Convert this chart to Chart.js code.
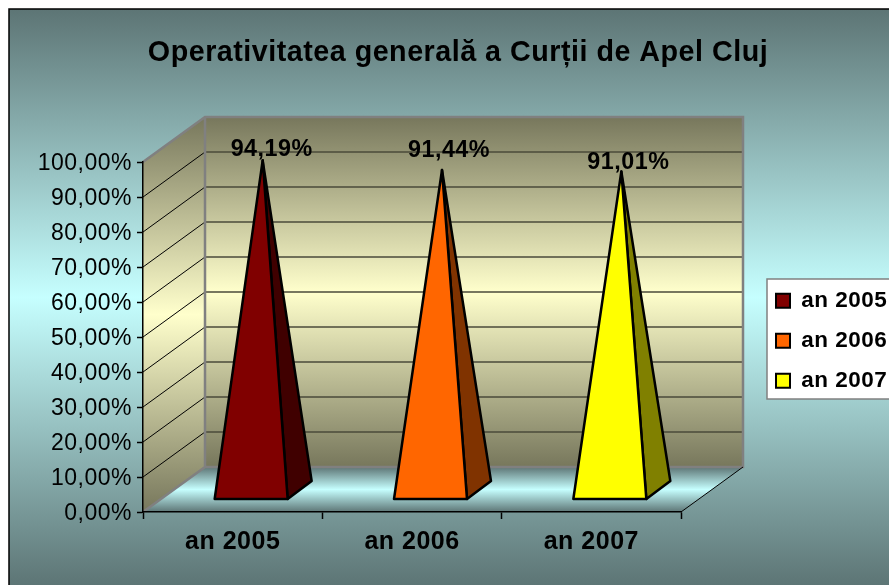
<!DOCTYPE html>
<html>
<head>
<meta charset="utf-8">
<script src="https://cdn.jsdelivr.net/npm/chart.js@4/dist/chart.umd.min.js"></script>
<style>
  html, body { margin: 0; padding: 0; background: #fff; overflow: hidden; }
  canvas { display: block; }
</style>
</head>
<body>
<canvas id="chart-operativitate" width="889" height="585"></canvas>
<script>
const titleText = "Operativitatea generală a Curții de Apel Cluj";
const categories = ["an 2005", "an 2006", "an 2007"];
const values = [94.19, 91.44, 91.01];
const frontColors = ["#800000", "#ff6600", "#ffff00"];
const sideColors = ["#400000", "#803300", "#808000"];

const FONT = '"Liberation Sans", Arial, sans-serif';
const TEXT_SPACING = "0.5px";
const depthX = 62;
const depthY = 45;
const labelNudge = [[9, -11], [7, -19], [7, -9]];

const formatPercent = (v) => v.toFixed(2).replace(".", ",") + "%";

function threeStops(ctx, y0, y1, edge, middle) {
    const g = ctx.createLinearGradient(0, y0, 0, y1);
    g.addColorStop(0, edge);
    g.addColorStop(0.5, middle);
    g.addColorStop(1, edge);
    return g;
}

function polygon(ctx, points, fill, stroke, lineWidth) {
    ctx.beginPath();
    points.forEach((p, i) => (i ? ctx.lineTo(p[0], p[1]) : ctx.moveTo(p[0], p[1])));
    ctx.closePath();
    if (fill) {
        ctx.fillStyle = fill;
        ctx.fill();
    }
    if (stroke) {
        ctx.strokeStyle = stroke;
        ctx.lineWidth = lineWidth;
        ctx.lineJoin = "round";
        ctx.stroke();
    }
}

const pyramidPlugin = {
    id: "pyramid3d",
    beforeUpdate(chart) {
        chart.ctx.letterSpacing = TEXT_SPACING;
    },
    afterLayout(chart) {
        // the original keeps the legend apart from the plot and the title off centre
        const legend = chart.legend;
        legend.left = 758.5;
        legend.right = legend.left + legend.width;
        legend.top = 272;
        legend.bottom = 500;
        chart.titleBlock.left = 27;
        chart.titleBlock.right = 889;
    },
    beforeDraw(chart) {
        const ctx = chart.ctx;
        const x = chart.scales.x;
        const y = chart.scales.y;
        const left = x.left, right = x.right;
        const top = y.getPixelForValue(100), bottom = y.getPixelForValue(0);
        ctx.letterSpacing = TEXT_SPACING;

        ctx.fillStyle = "#fff";
        ctx.fillRect(0, 0, chart.width, chart.height);
        ctx.fillStyle = threeStops(ctx, 10, 585, "#5d7575", "#c6ffff");
        ctx.fillRect(9, 9, chart.width, chart.height);
        ctx.strokeStyle = "#000";
        ctx.lineWidth = 1.5;
        ctx.strokeRect(9, 9, chart.width + 10, chart.height + 10);

        // back wall, side wall, floor
        const wallFill = threeStops(ctx, top - depthY, bottom - depthY, "#77775c", "#ffffcc");
        const sideFill = threeStops(ctx, top - depthY, bottom, "#77775c", "#ffffcc");
        const floorFill = threeStops(ctx, bottom - depthY, bottom, "#5d7575", "#c6ffff");
        polygon(ctx, [[left + depthX, top - depthY], [right + depthX, top - depthY],
            [right + depthX, bottom - depthY], [left + depthX, bottom - depthY]], wallFill);
        polygon(ctx, [[left, top], [left + depthX, top - depthY],
            [left + depthX, bottom - depthY], [left, bottom]], sideFill);
        polygon(ctx, [[left, bottom], [left + depthX, bottom - depthY],
            [right + depthX, bottom - depthY], [right, bottom]], floorFill);

        // gridlines on both walls
        y.ticks.forEach((tick) => {
            if (tick.value === 0) return;
            const py = y.getPixelForValue(tick.value);
            ctx.beginPath();
            ctx.moveTo(left, py);
            ctx.lineTo(left + depthX, py - depthY);
            ctx.strokeStyle = "#000";
            ctx.lineWidth = 1;
            ctx.stroke();
            ctx.beginPath();
            ctx.moveTo(left + depthX, py - depthY);
            ctx.lineTo(right + depthX, py - depthY);
            ctx.strokeStyle = "#4a4a3a";
            ctx.lineWidth = 1.5;
            ctx.stroke();
        });

        // wall outlines
        ctx.strokeStyle = "#808080";
        ctx.lineWidth = 2.5;
        ctx.beginPath();
        ctx.moveTo(left, bottom);
        ctx.lineTo(left + depthX, bottom - depthY);
        ctx.lineTo(right + depthX, bottom - depthY);
        ctx.lineTo(right + depthX, top - depthY);
        ctx.lineTo(left + depthX, top - depthY);
        ctx.lineTo(left, top);
        ctx.moveTo(left + depthX, top - depthY);
        ctx.lineTo(left + depthX, bottom - depthY);
        ctx.stroke();

        ctx.strokeStyle = "#000";
        ctx.lineWidth = 1;
        ctx.beginPath();
        ctx.moveTo(right, bottom);
        ctx.lineTo(right + depthX, bottom - depthY);
        ctx.stroke();

        // legend box, cut by the right edge as in the original
        ctx.fillStyle = "#fff";
        ctx.fillRect(767, 279, 140, 120);
        ctx.strokeStyle = "#808080";
        ctx.lineWidth = 1.5;
        ctx.strokeRect(767, 279, 140, 120);
    },
    beforeDatasetDraw(chart, args) {
        const ctx = chart.ctx;
        const y = chart.scales.y;
        const zero = y.getPixelForValue(0);
        args.meta.data.forEach((bar, i) => {
            const half = bar.width / 2;
            const cx = bar.x + 18.5;
            const frontL = [cx - half, zero - 13];
            const frontR = [cx + half, zero - 13];
            const backR = [cx + half + 24, zero - 31];
            const apex = [bar.x + 30, bar.y - 22];
            polygon(ctx, [frontR, backR, apex], sideColors[i], "#000", 2.5);
            polygon(ctx, [frontL, frontR, apex], frontColors[i], "#000", 2.5);
        });
        return false;
    },
    afterDatasetsDraw(chart) {
        const ctx = chart.ctx;
        const meta = chart.getDatasetMeta(0);
        ctx.save();
        ctx.font = "bold 23.3px " + FONT;
        ctx.fillStyle = "#000";
        ctx.textAlign = "center";
        ctx.textBaseline = "middle";
        meta.data.forEach((bar, i) => {
            ctx.fillText(formatPercent(values[i]), bar.x + 30 + labelNudge[i][0], bar.y - 22 + labelNudge[i][1]);
        });
        ctx.restore();
    },
};

new Chart(document.getElementById("chart-operativitate").getContext("2d"), {
    type: "bar",
    data: {
        labels: categories,
        datasets: [
            {
                label: "Operativitate",
                data: values,
                backgroundColor: frontColors,
                barPercentage: 0.407,
                categoryPercentage: 1,
            },
        ],
    },
    plugins: [pyramidPlugin],
    options: {
        responsive: false,
        animation: false,
        layout: { padding: { left: 0, top: 36, right: 208, bottom: 0 } },
        plugins: {
            tooltip: { enabled: false },
            title: {
                display: true,
                text: titleText,
                color: "#000",
                font: { family: FONT, size: 28.7, weight: "bold", lineHeight: 1.2 },
                padding: { top: 0, bottom: 91.6 },
            },
            legend: {
                position: "chartArea",
                align: "start",
                labels: {
                    boxWidth: 14,
                    boxHeight: 14,
                    padding: 17.5,
                    color: "#000",
                    font: { family: FONT, size: 22.5, weight: "bold", lineHeight: 1.2 },
                    generateLabels: () =>
                        categories.map((name, i) => ({
                            text: name,
                            fillStyle: frontColors[i],
                            strokeStyle: "#000",
                            fontColor: "#000",
                            lineWidth: 2,
                            index: i,
                        })),
                },
            },
        },
        scales: {
            x: {
                afterFit: (scale) => {
                    scale.height = 73;
                },
                border: { color: "#000", width: 1.5 },
                grid: { drawOnChartArea: false, tickLength: 7, tickColor: "#000", tickWidth: 1.5 },
                ticks: {
                    color: "#000",
                    padding: 8,
                    maxRotation: 0,
                    autoSkip: false,
                    font: { family: FONT, size: 25, weight: "bold", lineHeight: 1.2 },
                },
            },
            y: {
                min: 0,
                max: 100,
                afterFit: (scale) => {
                    scale.width = 143;
                },
                border: { color: "#000", width: 1.5 },
                grid: { drawOnChartArea: false, tickLength: 6, tickColor: "#000", tickWidth: 1.5 },
                ticks: {
                    stepSize: 10,
                    color: "#000",
                    padding: 5,
                    labelOffset: 1.5,
                    font: { family: FONT, size: 23, lineHeight: 1.2 },
                    callback: (v) => formatPercent(v),
                },
            },
        },
    },
});
</script>
</body>
</html>
